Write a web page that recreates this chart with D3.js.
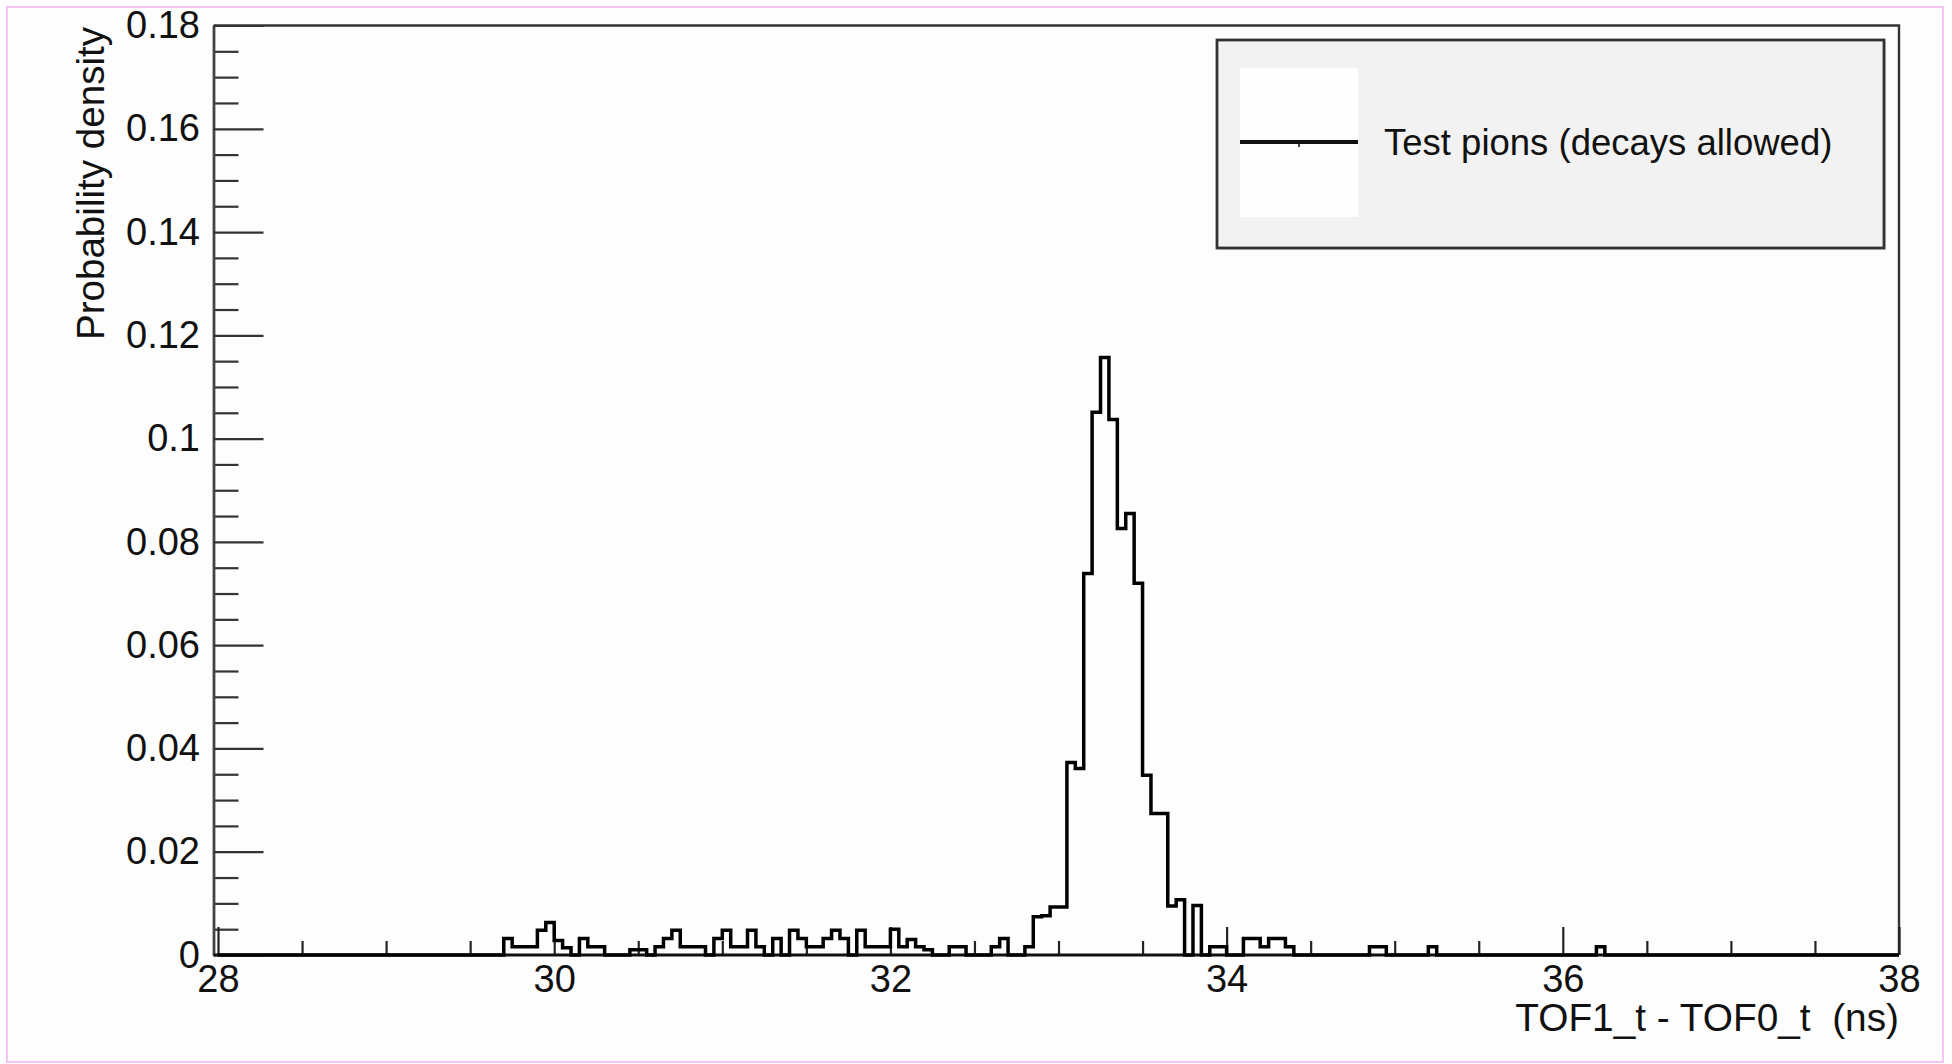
<!DOCTYPE html>
<html><head><meta charset="utf-8">
<script src="https://cdn.jsdelivr.net/npm/d3@7"></script>
<style>
html,body{margin:0;padding:0;background:#fff;}
svg{display:block;}
text{font-family:"Liberation Sans",Arial,Helvetica,sans-serif;}
</style></head><body>
<svg id="c" width="1952" height="1064"></svg>
<script>
// ---- data (non-empty bins, left edges in ns; bin width 0.05 ns) ----
const binLow = [29.70,29.75,29.80,29.85,29.90,29.95,30.00,30.05,30.15,30.20,30.25,30.45,30.50,
  30.60,30.65,30.70,30.75,30.80,30.85,30.95,31.00,31.05,31.10,31.15,31.20,31.30,31.40,31.45,
  31.50,31.55,31.60,31.65,31.70,31.80,31.85,31.90,31.95,32.00,32.05,32.10,32.15,32.20,32.35,
  32.40,32.60,32.65,32.80,32.85,32.90,32.95,33.00,33.05,33.10,33.15,33.20,33.25,33.30,33.35,
  33.40,33.45,33.50,33.55,33.60,33.65,33.70,33.80,33.90,33.95,34.10,34.15,34.20,34.25,34.30,
  34.35,34.85,34.90,35.20,36.20];
const density = [0.0032,0.0016,0.0016,0.0016,0.0048,0.0063,0.0028,0.0014,0.0032,0.0016,0.0016,0.0010,0.0010,
  0.0016,0.0032,0.0048,0.0016,0.0016,0.0016,0.0032,0.0048,0.0016,0.0016,0.0048,0.0016,0.0032,0.0048,0.0032,
  0.0016,0.0016,0.0032,0.0048,0.0032,0.0048,0.0016,0.0016,0.0016,0.0050,0.0016,0.0030,0.0016,0.0010,0.0016,
  0.0016,0.0016,0.0032,0.0016,0.0074,0.0076,0.0093,0.0093,0.0373,0.0361,0.0739,0.1051,0.1157,0.1037,0.0826,
  0.0855,0.0720,0.0348,0.0274,0.0274,0.0095,0.0107,0.0096,0.0016,0.0016,0.0032,0.0032,0.0016,0.0032,0.0032,
  0.0016,0.0016,0.0016,0.0016,0.0016];
const binWidth = 0.05;
const xDomain = [28, 38];
const yDomain = [0, 0.18];
const xMajorTicks = [28, 30, 32, 34, 36, 38];
const xTickLabels = ["28", "30", "32", "34", "36", "38"];
const xMinorTicks = [28.5,29,29.5,30.5,31,31.5,32.5,33,33.5,34.5,35,35.5,36.5,37,37.5];
const yMajorTicks = [0, 0.02, 0.04, 0.06, 0.08, 0.10, 0.12, 0.14, 0.16, 0.18];
const yTickLabels = ["0", "0.02", "0.04", "0.06", "0.08", "0.1", "0.12", "0.14", "0.16", "0.18"];
const yMinorTicks = [0.005,0.01,0.015,0.025,0.03,0.035,0.045,0.05,0.055,0.065,0.07,0.075,0.085,0.09,0.095,
  0.105,0.11,0.115,0.125,0.13,0.135,0.145,0.15,0.155,0.165,0.17,0.175];
const seriesName = "Test pions (decays allowed)";
const xTitle = "TOF1_t - TOF0_t  (ns)";
const yTitle = "Probability density";

// ---- drawing ----
const svg = d3.select("#c");
const W = 1952, H = 1064;
const fx0 = 213.5, fx1 = 1899, fy0 = 25.5, fy1 = 955;
const font = '"Liberation Sans",Arial,Helvetica,sans-serif';

svg.append("rect").attr("width", W).attr("height", H).attr("fill", "#fff");
svg.append("rect").attr("x", 7).attr("y", 7).attr("width", 1936).attr("height", 1055)
  .attr("fill", "#fdfdfd").attr("stroke", "#f4c4f4").attr("stroke-width", 2);

const x = d3.scaleLinear().domain(xDomain).range([218, 1899]);
const y = d3.scaleLinear().domain(yDomain).range([fy1, fy0]);

// frame top/right
svg.append("path").attr("d", `M${fx0},${fy0}H${fx1}V${fy1}`)
  .attr("fill", "none").attr("stroke", "#333").attr("stroke-width", 2.4);

// y axis
const gyMinor = svg.append("g").attr("transform", `translate(${fx0},0)`)
  .call(d3.axisLeft(y).tickValues(yMinorTicks).tickSizeInner(-25).tickSizeOuter(0).tickFormat(""));
gyMinor.select(".domain").remove();
const gy = svg.append("g").attr("transform", `translate(${fx0},0)`)
  .call(d3.axisLeft(y).tickValues(yMajorTicks).tickSizeInner(-50).tickSizeOuter(0)
    .tickPadding(13.5).tickFormat((d, i) => yTickLabels[i]));
[gyMinor, gy].forEach(g => {
  g.attr("color", "#333").attr("font-size", 38).attr("font-family", font);
  g.selectAll("line").attr("stroke-width", 2.2);
});
gy.select(".domain").attr("stroke-width", 2.8).attr("stroke", "#444");
gy.selectAll("text").attr("fill", "#111");

// x axis
const gxMinor = svg.append("g").attr("transform", `translate(0,${fy1})`)
  .call(d3.axisBottom(x).tickValues(xMinorTicks).tickSizeInner(-14).tickSizeOuter(0).tickFormat(""));
gxMinor.select(".domain").remove();
const gx = svg.append("g").attr("transform", `translate(0,${fy1})`)
  .call(d3.axisBottom(x).tickValues(xMajorTicks).tickSizeInner(-28).tickSizeOuter(0)
    .tickPadding(10).tickFormat((d, i) => xTickLabels[i]));
gx.select(".domain").remove();
[gxMinor, gx].forEach(g => {
  g.attr("color", "#222").attr("font-size", 38).attr("font-family", font);
  g.selectAll("line").attr("stroke-width", 2.2);
});
gx.selectAll("text").attr("fill", "#111");
svg.append("line").attr("x1", fx0).attr("x2", fx1).attr("y1", fy1).attr("y2", fy1)
  .attr("stroke", "#111").attr("stroke-width", 3);

// histogram
const nb = Math.round((xDomain[1] - xDomain[0]) / binWidth);
const vals = new Array(nb).fill(0);
binLow.forEach((b, i) => { vals[Math.round((b - xDomain[0]) / binWidth)] = density[i]; });
const pts = [[xDomain[0], 0]];
vals.forEach((v, i) => pts.push([xDomain[0] + i * binWidth, v]));
pts.push([xDomain[1], vals[nb - 1]]);
pts.push([xDomain[1], 0]);
const line = d3.line().x(d => x(d[0])).y(d => y(d[1])).curve(d3.curveStepAfter);
svg.append("path").attr("d", line(pts)).attr("fill", "none").attr("stroke", "#000")
  .attr("stroke-width", 3.5).attr("stroke-linejoin", "miter");

// axis titles
svg.append("text").attr("transform", `translate(104,27) rotate(-90)`)
  .attr("text-anchor", "end").attr("font-size", 38.6).attr("fill", "#111").text(yTitle);
svg.append("text").attr("x", 1899).attr("y", 1031).attr("text-anchor", "end")
  .attr("font-size", 38.8).attr("fill", "#111").style("white-space", "pre").text(xTitle);

// legend
svg.append("rect").attr("x", 1219).attr("y", 42).attr("width", 667).attr("height", 208)
  .attr("fill", "#bbb").attr("opacity", 0.5);
svg.append("rect").attr("x", 1217).attr("y", 40).attr("width", 667).attr("height", 208)
  .attr("fill", "#f2f2f2").attr("stroke", "#333").attr("stroke-width", 2.8);
svg.append("rect").attr("x", 1240).attr("y", 68).attr("width", 118).attr("height", 149)
  .attr("fill", "#fefefe");
svg.append("line").attr("x1", 1240).attr("x2", 1358).attr("y1", 142).attr("y2", 142)
  .attr("stroke", "#111").attr("stroke-width", 3.8);
svg.append("line").attr("x1", 1299).attr("x2", 1299).attr("y1", 142).attr("y2", 147)
  .attr("stroke", "#111").attr("stroke-width", 1.5);
svg.append("text").attr("x", 1384).attr("y", 155).attr("font-size", 36.5).attr("fill", "#111")
  .text(seriesName);
</script>
</body></html>
